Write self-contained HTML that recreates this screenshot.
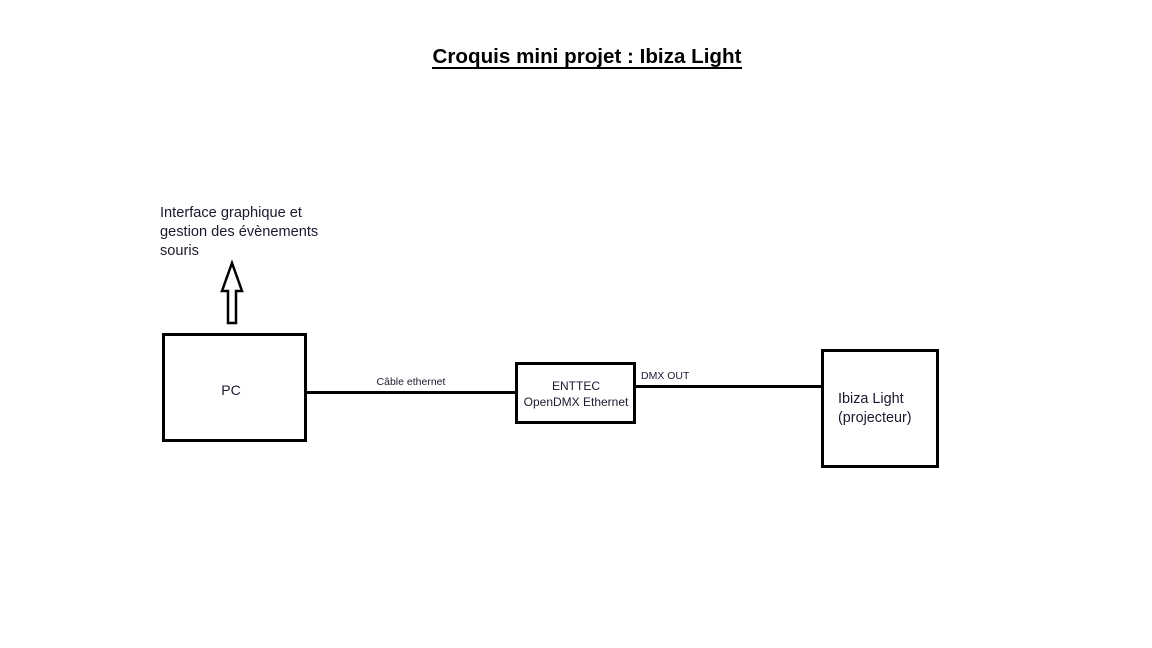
<!DOCTYPE html>
<html><head><meta charset="utf-8"><style>
html,body{margin:0;padding:0;background:#fff;width:1152px;height:648px;overflow:hidden}
svg{display:block}
text{font-family:"Liberation Sans",sans-serif;fill:#1a1a2e}
</style></head><body>
<svg width="1152" height="648" viewBox="0 0 1152 648" xmlns="http://www.w3.org/2000/svg">
<text x="587" y="63" text-anchor="middle" font-size="20.6" font-weight="bold" style="fill:#000">Croquis mini projet : Ibiza Light</text>
<rect x="432" y="67" width="310" height="2" fill="#000"/>
<text x="160" y="217" font-size="14.6">Interface graphique et</text>
<text x="160" y="236" font-size="14.6">gestion des évènements</text>
<text x="160" y="255" font-size="14.6">souris</text>
<polygon points="232,263 242,291 236,291 236,323 228,323 228,291 222,291" fill="#fff" stroke="#000" stroke-width="2.5"/>
<rect x="163.5" y="334.5" width="142" height="106" fill="#fff" stroke="#000" stroke-width="3"/>
<text x="231" y="395" font-size="14" text-anchor="middle">PC</text>
<line x1="306" y1="392.5" x2="515" y2="392.5" stroke="#000" stroke-width="3"/>
<text x="411" y="385" font-size="10.5" text-anchor="middle">Câble ethernet</text>
<rect x="516.5" y="363.5" width="118" height="59" fill="#fff" stroke="#000" stroke-width="3"/>
<text x="576" y="390" font-size="12" text-anchor="middle">ENTTEC</text>
<text x="576" y="406" font-size="12" text-anchor="middle">OpenDMX Ethernet</text>
<line x1="636" y1="386.5" x2="821" y2="386.5" stroke="#000" stroke-width="3"/>
<text x="641" y="379" font-size="10.5">DMX OUT</text>
<rect x="822.5" y="350.5" width="115" height="116" fill="#fff" stroke="#000" stroke-width="3"/>
<text x="838" y="403" font-size="14.4">Ibiza Light</text>
<text x="838" y="422" font-size="14.4">(projecteur)</text>
</svg>
</body></html>
